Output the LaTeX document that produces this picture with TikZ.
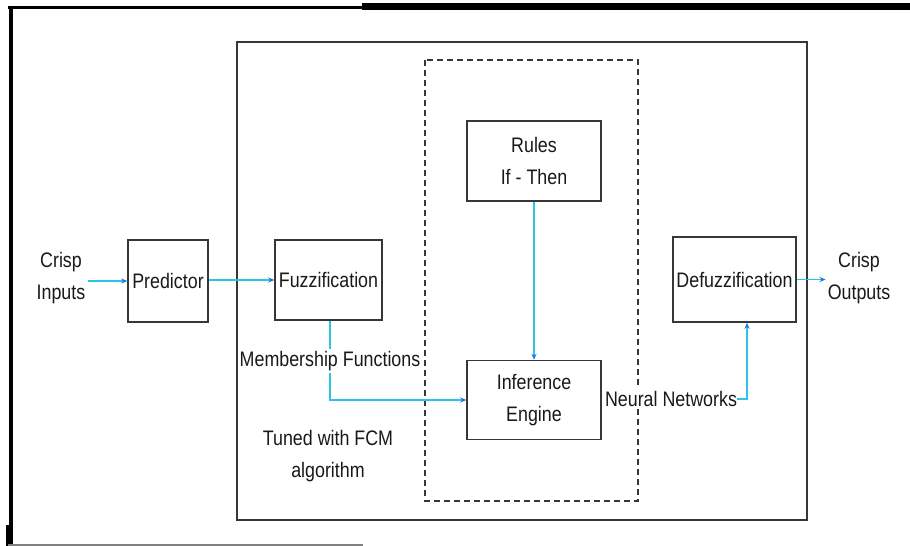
\documentclass[tikz,border=0pt]{standalone}
\usepackage{fontspec}
\setmainfont[FakeStretch=0.85]{Liberation Sans}
\usetikzlibrary{arrows.meta}
\definecolor{lnk}{RGB}{45,195,232}
\definecolor{tipc}{RGB}{25,120,220}
\definecolor{boxc}{RGB}{55,55,55}
\definecolor{txt}{RGB}{25,25,25}
\begin{document}
\begin{tikzpicture}[x=1pt,y=-1pt,
  every node/.style={font=\fontsize{21}{32}\selectfont, text=txt},
  blk/.style={draw=boxc, line width=1.5pt, fill=white, inner sep=0pt, align=center},
  lbl/.style={align=center, inner sep=2pt},
  link/.style={draw=lnk, line width=1.4pt, -{Stealth[length=6pt,width=5pt,color=tipc]}},
  plainlink/.style={draw=lnk, line width=1.4pt}]
\useasboundingbox (0,0) rectangle (910,546);
\fill[white] (0,0) rectangle (910,546);
% outer frame fragments
\draw[black, line width=3pt] (8,7.5) -- (362,7.5);
\draw[black, line width=7pt] (362,6.5) -- (910,6.5);
\draw[black, line width=4pt] (10.5,6) -- (10.5,546);
\draw[black, line width=6pt] (9,525) -- (9,546);
\draw[gray, line width=1.5pt] (8,545) -- (363,545);
% enclosing rectangles
\draw[boxc, line width=2pt] (237,42) rectangle (807,520);
\draw[boxc, line width=1.5pt, dash pattern=on 6pt off 4pt] (425,60) rectangle (638,501);
% blocks
\node[blk, minimum width=80pt, minimum height=82pt] (pred) at (168,281) {Predictor};
\node[blk, minimum width=107pt, minimum height=80pt] (fuzz) at (328.5,280) {Fuzzification};
\node[blk, minimum width=134pt, minimum height=80pt] (rules) at (534,161) {Rules\\If - Then};
\node[blk, minimum width=134pt, minimum height=79pt] (inf) at (534,400) {Inference\\Engine};
\node[blk, minimum width=123pt, minimum height=85pt] (defuzz) at (734.5,279.5) {Defuzzification};
% labels
\node[lbl] (cin) at (61,278) {Crisp\\Inputs};
\node[lbl] (cout) at (859,278) {Crisp\\Outputs};
\node[lbl] (mf) at (330,361) {Membership Functions};
\node[lbl] (tuned) at (328,456) {Tuned with FCM\\algorithm};
\node[lbl, fill=white, inner xsep=0pt] (nn) at (671,399) {Neural Networks};
\coordinate (nnturn) at (747,399);
% connectors
\draw[link] (cin.east |- pred.west) -- (pred.west);
\draw[link] (pred.east |- fuzz.west) -- (fuzz.west);
\draw[plainlink] (fuzz.south -| mf.north) -- (mf.north);
\draw[link] (mf.south) |- (inf.west);
\draw[link] (rules.south) -- (inf.north);
\draw[link] (nn.east) -- (nnturn) -- (nnturn |- defuzz.south);
\draw[link] (defuzz.east) -- (defuzz.east -| cout.west);
\end{tikzpicture}
\end{document}
